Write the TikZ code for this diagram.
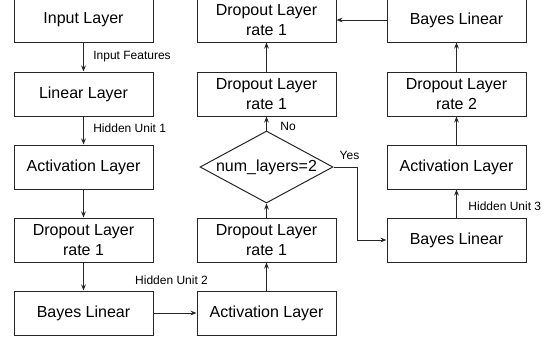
\documentclass[tikz,border=0pt]{standalone}
\usepackage{fontspec}
\setmainfont{Liberation Sans}
\usetikzlibrary{shapes.geometric,arrows.meta}
\begin{document}
\begin{tikzpicture}[x=0.75pt,y=-0.75pt,
  box/.style={draw=black!85,line width=0.75pt,minimum width=104.25pt,minimum height=33pt,inner sep=0pt,align=center,font=\fontsize{12}{14.5}\selectfont},
  dia/.style={draw=black!85,line width=0.75pt,shape=diamond,aspect=1.85,minimum width=99.75pt,minimum height=54pt,inner sep=0pt,font=\fontsize{12}{14.5}\selectfont},
  lbl/.style={font=\fontsize{9}{10.8}\selectfont,inner sep=0pt},
  arr/.style={draw=black!85,line width=0.75pt,-{Stealth[length=4.5pt,width=3.5pt]}}
]
\useasboundingbox (0,0) rectangle (559,343);
% column 1
\node[box] (in) at (83.5,20) {Input Layer};
\node[box] (lin) at (83.5,94) {Linear Layer};
\node[box] (act1) at (83.5,167) {Activation Layer};
\node[box] (drop1) at (83.5,240) {Dropout Layer\\rate 1};
\node[box] (bay1) at (83.5,313) {Bayes Linear};
% column 2
\node[box] (act2) at (266.5,313) {Activation Layer};
\node[box] (drop2) at (266.5,240) {Dropout Layer\\rate 1};
\node[dia] (dec) at (266.5,167) {num\_layers=2};
\node[box] (drop3) at (266.5,94) {Dropout Layer\\rate 1};
\node[box] (drop4) at (266.5,20) {Dropout Layer\\rate 1};
% column 3
\node[box] (bay2) at (456.5,240) {Bayes Linear};
\node[box] (act3) at (456.5,167) {Activation Layer};
\node[box] (drop5) at (456.5,94) {Dropout Layer\\rate 2};
\node[box] (bay3) at (456.5,20) {Bayes Linear};
% connectors
\draw[arr] (in) -- node[lbl,anchor=west,xshift=7pt,yshift=0.5pt] {Input Features} (lin);
\draw[arr] (lin) -- node[lbl,anchor=west,xshift=7pt,yshift=1.5pt] {Hidden Unit 1} (act1);
\draw[arr] (act1) -- (drop1);
\draw[arr] (drop1) -- (bay1);
\draw[arr] (bay1) -- node[lbl,xshift=-2.6pt,yshift=24.75pt] {Hidden Unit 2} (act2);
\draw[arr] (act2) -- (drop2);
\draw[arr] (drop2) -- (dec.south);
\draw[arr] (dec.north) -- node[lbl,anchor=west,xshift=10pt,yshift=-2pt] {No} (drop3);
\draw[arr] (drop3) -- (drop4);
\draw[arr] (dec.east) -- node[lbl,above=5pt,xshift=3pt] {Yes} ++(24,0) |- (bay2.west);
\draw[arr] (bay2) -- node[lbl,anchor=west,xshift=8.6pt,yshift=-2pt] {Hidden Unit 3} (act3);
\draw[arr] (act3) -- (drop5);
\draw[arr] (drop5) -- (bay3);
\draw[arr] (bay3) -- (drop4);
\end{tikzpicture}
\end{document}
